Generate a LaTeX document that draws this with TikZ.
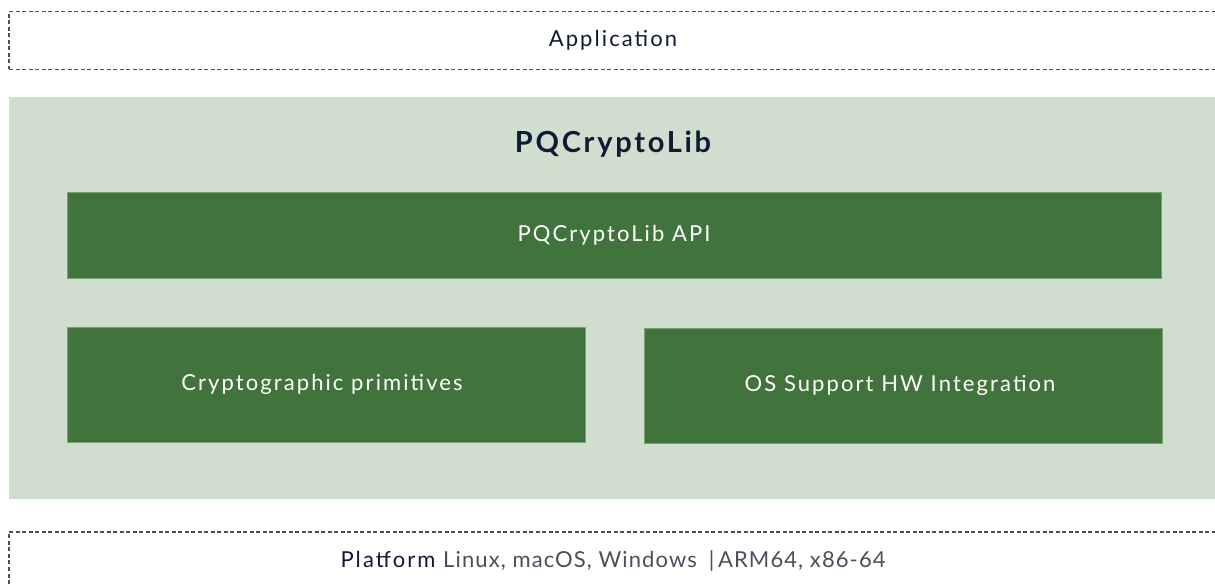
\documentclass[tikz,border=0pt]{standalone}
\usepackage{fontspec}
\setmainfont{Lato}[LetterSpace=9.5]
\usepackage{tikz}
\usetikzlibrary{positioning}

\definecolor{panelgreen}{HTML}{D0DED0}
\definecolor{boxgreen}{HTML}{41733C}
\definecolor{dashgray}{HTML}{4A4E5E}
\definecolor{inkblue}{HTML}{0F1B33}
\definecolor{softgray}{HTML}{4A4F5C}

\tikzset{
	layer/.style={draw=dashgray, dashed, dash pattern=on 4pt off 2.5pt, line width=1.3pt,
		minimum width=1208pt, minimum height=58pt, inner sep=0pt,
		text=inkblue, font=\fontsize{22}{26}\selectfont},
	block/.style={fill=boxgreen, draw=boxgreen!60!panelgreen, line width=0.8pt, inner sep=0pt,
		text=white, font=\fontsize{22}{26}\selectfont}
}

\begin{document}
\begin{tikzpicture}[x=1pt, y=-1pt]
	\useasboundingbox (0,0) rectangle (1215,585);
	\clip (0,0) rectangle (1215,585);

	% layers
	\node [layer] (app) at (613,40.5) {Application};
	\node [layer] (platform) at (613,561) {Platform {\color{softgray}\addfontfeature{LetterSpace=5}Linux, macOS, Windows\hspace{12pt}|\,ARM64, x86-64}};

	% library panel
	\node [fill=panelgreen, minimum width=1211pt, minimum height=402pt, inner sep=0pt] (lib) at (614.5,298) {};
	\node [text=inkblue, font=\fontsize{29}{34}\bfseries\selectfont] (libtitle) at (613,144) {PQCryptoLib};

	% blocks
	\node [block, minimum width=1094pt, minimum height=86pt] (api) at (614,235) {PQCryptoLib API};
	\node [block, minimum width=518pt, minimum height=115pt] (prim) at (326,384.5) {\hspace{-8pt}Cryptographic primitives};
	\node [block, minimum width=518pt, minimum height=115pt] (os) at (903,385.5) {\hspace{-6pt}OS Support HW Integration};
\end{tikzpicture}
\end{document}
